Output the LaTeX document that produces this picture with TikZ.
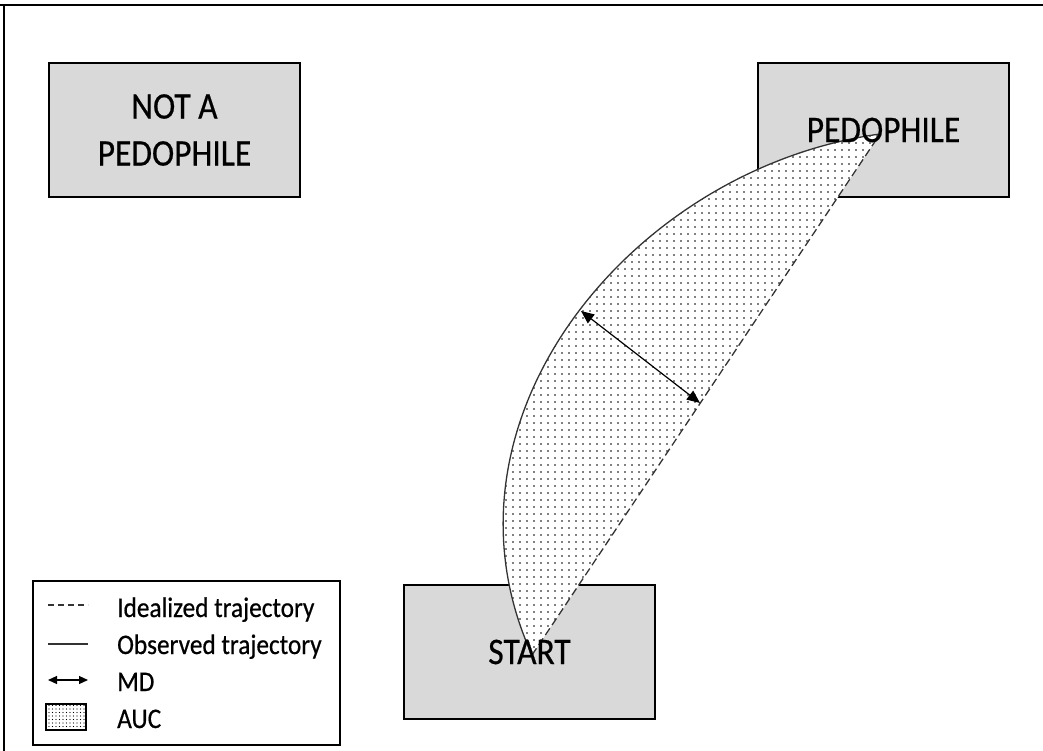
\documentclass[tikz,border=0pt]{standalone}
\usepackage{fontspec}
\setmainfont{Carlito}
\newfontfamily\heavyfont{Carlito}[FakeBold=0.6]
\usetikzlibrary{arrows.meta,patterns.meta}
\definecolor{boxgray}{HTML}{D9D9D9}
\definecolor{traj}{HTML}{333333}
\newcommand{\vst}[1]{\scalebox{1}[1.12]{#1}}
\begin{document}
\begin{tikzpicture}[x=1pt,y=-1pt,
  catbox/.style={draw=black, line width=2pt, fill=boxgray, minimum width=251pt, minimum height=134pt, inner sep=0pt},
  boxtext/.style={inner sep=0pt, align=center, font=\heavyfont\fontsize{33.5}{47}\selectfont},
  legtext/.style={anchor=base west, inner sep=0pt, font=\heavyfont\fontsize{25.3}{30}\selectfont},
  obstraj/.style={draw=traj, line width=1.3pt},
  idtraj/.style={draw=traj, line width=1.3pt, dash pattern=on 8pt off 4pt},
  mdarrow/.style={{Triangle[length=13pt,width=11pt]}-{Triangle[length=13pt,width=11pt]}, line width=1.2pt},
  aucfill/.style={preaction={fill=white}, pattern={Dots[distance=6.5pt,radius=1pt]}, pattern color=black}
]
\useasboundingbox (0,0) rectangle (1043,751);
% outer frame
\draw[line width=2.5pt] (0,5) -- (1043,5);
\draw[line width=1.6pt] (4,5) -- (4,751);
% category boxes
\node[catbox] (notped) at (174.5,130) {};
\node[catbox] (ped) at (883.5,130) {};
\node[catbox] (start) at (529.5,652) {};
% trajectory end points
\coordinate (s0) at (532,655);
\coordinate (p0) at (880,134);
% AUC
\path[aucfill] (s0) .. controls (425,420) and (632,168) .. (p0) -- cycle;
% trajectories
\draw[obstraj] (s0) .. controls (425,420) and (632,168) .. (p0);
\draw[idtraj] (s0) -- (p0);
% MD
\coordinate (md1) at (581,311);
\coordinate (md2) at (700,403);
\draw[mdarrow] (md1) -- (md2);
% box labels
\node[boxtext] (notpedtxt) at (notped.center) {\vst{NOT A}\\\vst{PEDOPHILE}};
\node[boxtext] (pedtxt) at (ped.center) {\vst{PEDOPHILE}};
\node[boxtext] (starttxt) at (start.center) {\vst{START}};
% legend
\node[draw=black, line width=1.5pt, fill=white, minimum width=307pt, minimum height=164pt, inner sep=0pt] (legend) at (186.5,663) {};
\draw[draw=traj, line width=1.3pt, dash pattern=on 6pt off 4pt] (48,605) -- (88,605);
\draw[draw=traj, line width=1.3pt] (48,644) -- (88,644);
\draw[{Triangle[length=9pt,width=8pt]}-{Triangle[length=9pt,width=8pt]}, line width=1.2pt] (48,680) -- (88,680);
\path[draw=black, line width=1.5pt, preaction={fill=white}, pattern={Dots[distance=3.5pt,radius=0.7pt]}, pattern color=black] (46,704) rectangle (86,730);
\node[legtext] (l1) at (117,617) {\vst{Idealized trajectory}};
\node[legtext] (l2) at (117,654) {\vst{Observed trajectory}};
\node[legtext] (l3) at (117,691) {\vst{MD}};
\node[legtext] (l4) at (117,728) {\vst{AUC}};
\end{tikzpicture}
\end{document}
